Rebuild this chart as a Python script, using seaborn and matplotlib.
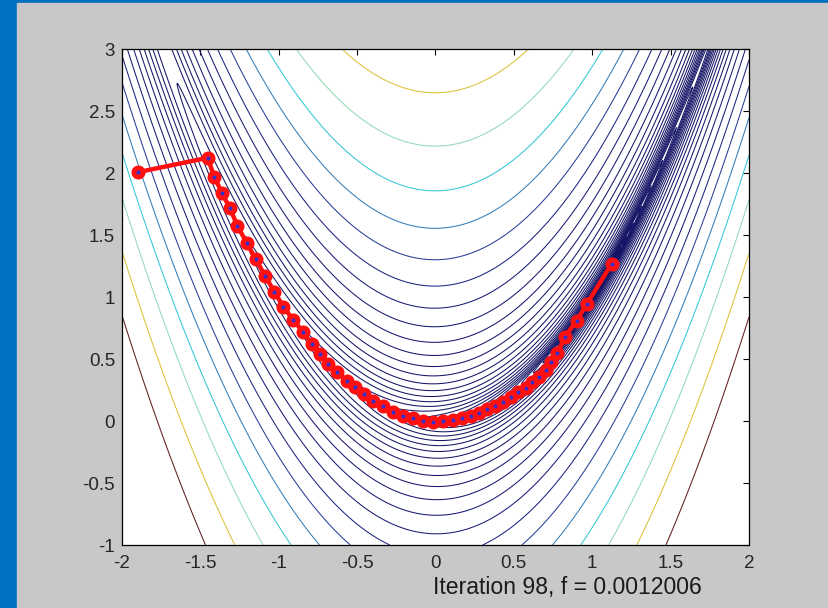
import numpy as np
import matplotlib
matplotlib.use("Agg")
import matplotlib.pyplot as plt
from matplotlib.colors import LinearSegmentedColormap
from matplotlib.patches import Rectangle
import seaborn as sns
import pandas as pd

# ---- data ----
x_ticks = [-2, -1.5, -1, -0.5, 0, 0.5, 1, 1.5, 2]
y_ticks = [-1, -0.5, 0, 0.5, 1, 1.5, 2, 2.5, 3]
x_tick_labels = ["-2", "-1.5", "-1", "-0.5", "0", "0.5", "1", "1.5", "2"]
y_tick_labels = ["-1", "-0.5", "0", "0.5", "1", "1.5", "2", "2.5", "3"]
levels = np.logspace(-3, 3, 40)
path_x = [-1.900, -1.453, -1.412, -1.361, -1.311, -1.264, -1.205, -1.147, -1.088,
          -1.028, -0.971, -0.907, -0.843, -0.790, -0.737, -0.684, -0.627, -0.567,
          -0.514, -0.456, -0.397, -0.333, -0.270, -0.205, -0.142, -0.078, -0.014,
          0.050, 0.114, 0.171, 0.225, 0.278, 0.326, 0.379, 0.433, 0.482, 0.529,
          0.575, 0.618, 0.661, 0.703, 0.737, 0.777, 0.826, 0.900, 0.964, 1.123]
path_y = [2.006, 2.123, 1.970, 1.836, 1.715, 1.575, 1.438, 1.306, 1.172,
          1.043, 0.922, 0.815, 0.715, 0.621, 0.537, 0.460, 0.393, 0.325,
          0.272, 0.215, 0.164, 0.117, 0.075, 0.043, 0.022, 0.003, -0.006,
          0.000, 0.008, 0.022, 0.040, 0.067, 0.097, 0.123, 0.156, 0.191, 0.231,
          0.269, 0.312, 0.358, 0.411, 0.478, 0.546, 0.680, 0.809, 0.941, 1.266]
label_text = "Iteration 98, f = 0.0012006"

# ---- style ----
sns.set_style("white")
plt.rcParams['font.family'] = ['Liberation Sans', 'DejaVu Sans']

W, H = 829, 608
fig = plt.figure(figsize=(W / 100, H / 100), dpi=100, facecolor='#0070C0')
fig.patches.append(Rectangle((17 / W, 0), (827 - 17) / W, (H - 3) / H,
                             transform=fig.transFigure, color='#C8C8C8', zorder=-10))

ax = fig.add_axes([122 / W, 63 / H, 627 / W, 496 / H])
ax.set_zorder(5)
ax.set_facecolor('white')

# Rosenbrock surface
gx = np.linspace(-2, 2, 900)
gy = np.linspace(-1, 3, 900)
X, Y = np.meshgrid(gx, gy)
Z = (1 - X) ** 2 + 100 * (Y - X ** 2) ** 2

cmap = LinearSegmentedColormap.from_list("mjet", [
    (0.00, (0.08, 0.08, 0.40)),
    (0.10, (0.10, 0.11, 0.48)),
    (0.17, (0.16, 0.24, 0.60)),
    (0.24, (0.20, 0.48, 0.72)),
    (0.345, (0.20, 0.78, 0.84)),
    (0.49, (0.56, 0.86, 0.72)),
    (0.70, (0.86, 0.76, 0.22)),
    (1.00, (0.38, 0.12, 0.12)),
])
ax.contour(X, Y, Z, levels=levels, cmap=cmap, linewidths=0.75,
           vmin=levels.min(), vmax=levels.max())

df = pd.DataFrame({"x": path_x, "y": path_y})
sns.lineplot(data=df, x="x", y="y", sort=False, estimator=None, ax=ax,
             color='#FF1010', linewidth=3.2, marker='o', markersize=6.5,
             markerfacecolor='#3030D8', markeredgecolor='#FF1010',
             markeredgewidth=3.6, zorder=5)

ax.set_xlim(-2, 2)
ax.set_ylim(-1, 3)
ax.set_xticks(x_ticks)
ax.set_xticklabels(x_tick_labels)
ax.set_yticks(y_ticks)
ax.set_yticklabels(y_tick_labels)
ax.set_xlabel("")
ax.set_ylabel("")
ax.tick_params(direction='in', length=4.5, width=0.8, top=True, right=True,
               labelsize=13.5, labelcolor='#262626', color='black')
ax.tick_params(axis='x', pad=7)
ax.tick_params(axis='y', pad=5)
for s in ax.spines.values():
    s.set_visible(True)
    s.set_color('black')
    s.set_linewidth(0.9)

fig.text(433 / W, 14 / H, label_text, ha='left', va='baseline',
         fontsize=16.6, color='#1a1a1a')

fig.savefig("out.png", dpi=100, facecolor=fig.get_facecolor())
